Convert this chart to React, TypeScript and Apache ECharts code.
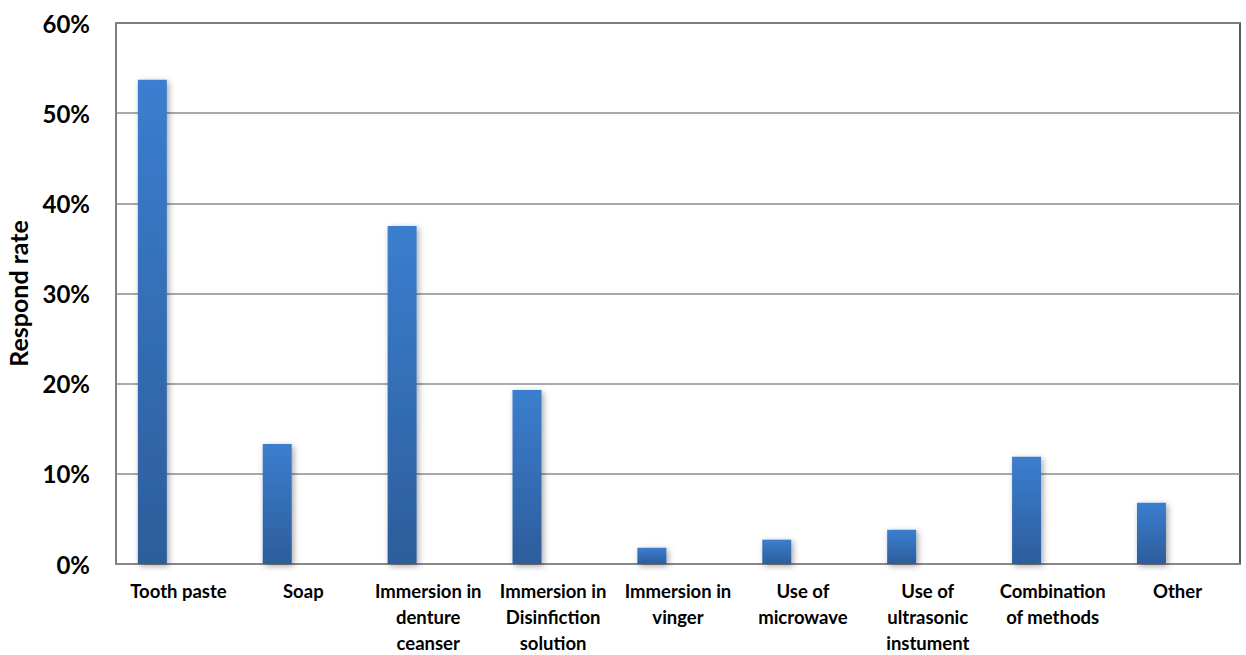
import React, { useEffect, useRef } from "react";
import * as echarts from "echarts";

const categories = [
  "Tooth paste",
  "Soap",
  "Immersion in\ndenture\nceanser",
  "Immersion in\nDisinfiction\nsolution",
  "Immersion in\nvinger",
  "Use of\nmicrowave",
  "Use of\nultrasonic\ninstument",
  "Combination\nof methods",
  "Other",
];
const respondRate = [53.7, 13.3, 37.5, 19.3, 1.8, 2.7, 3.8, 11.9, 6.8];
const emptySeries = [null, null, null, null, null, null, null, null, null];
const yTicks = { min: 0, max: 60, interval: 10 };

export default function App() {
  const ref = useRef<HTMLDivElement>(null);
  useEffect(() => {
    const chart = echarts.init(ref.current!, null, { renderer: "svg" });
    const font = "Lato, 'Noto Sans', sans-serif";
    chart.setOption({
      animation: false,
      grid: {
        left: 116,
        right: 6,
        top: 23,
        bottom: 91,
        outerBoundsMode: "none",
        containLabel: false,
        show: true,
        borderColor: "#222",
        borderWidth: 1.5,
        backgroundColor: "transparent",
      },
      xAxis: {
        type: "category",
        data: categories,
        axisLine: { show: true, lineStyle: { color: "#8c8c8c", width: 1.5 } },
        axisTick: { show: false },
        axisLabel: {
          interval: 0,
          color: "#000",
          fontFamily: font,
          fontWeight: "bold",
          fontSize: 18.5,
          lineHeight: 26,
          margin: 14,
        },
      },
      yAxis: {
        type: "value",
        min: yTicks.min,
        max: yTicks.max,
        interval: yTicks.interval,
        name: "Respond rate",
        nameLocation: "middle",
        nameGap: 86,
        nameTextStyle: {
          color: "#000",
          fontFamily: font,
          fontWeight: "bold",
          fontSize: 25,
        },
        axisLine: { show: true, lineStyle: { color: "#8c8c8c", width: 1.5 } },
        axisTick: { show: false },
        axisLabel: {
          formatter: "{value}%",
          color: "#000",
          fontFamily: font,
          fontWeight: "bold",
          fontSize: 24,
          margin: 26,
        },
        splitLine: { lineStyle: { color: "#8c8c8c", width: 1.5 } },
      },
      series: [
        {
          type: "bar",
          data: respondRate,
          barWidth: 29,
          barGap: "80%",
          itemStyle: {
            color: new echarts.graphic.LinearGradient(0, 0, 0, 1, [
              { offset: 0, color: "#3b7ecf" },
              { offset: 1, color: "#2d5d9b" },
            ]),
            shadowColor: "rgba(0,0,0,0.35)",
            shadowBlur: 6,
            shadowOffsetX: 2,
            shadowOffsetY: 2,
          },
        },
        {
          type: "bar",
          data: emptySeries,
          barWidth: 29,
        },
      ],
    });
    return () => chart.dispose();
  }, []);
  return <div ref={ref} style={{ width: 1246, height: 655, position: "absolute", left: 0, top: 0 }} />;
}
